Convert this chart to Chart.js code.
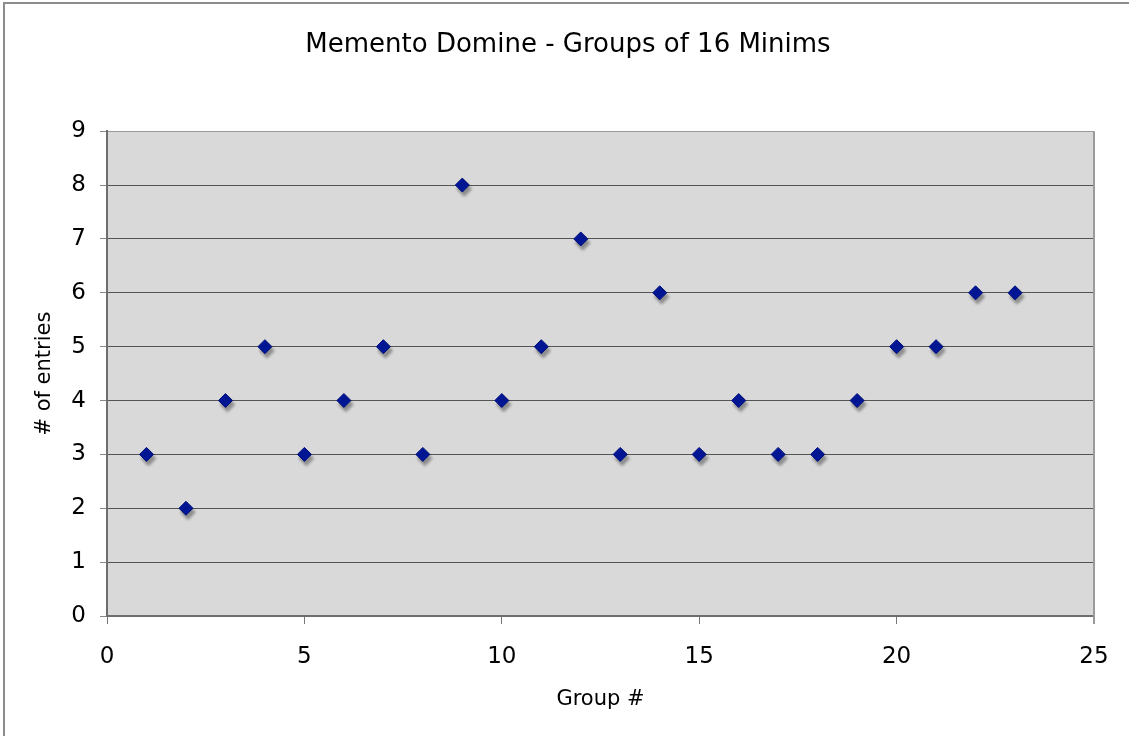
<!DOCTYPE html>
<html>
<head>
<meta charset="utf-8">
<script src="https://cdn.jsdelivr.net/npm/chart.js@4/dist/chart.umd.min.js"></script>
<style>
  html, body { margin: 0; padding: 0; background: #fff; }
  #wrap { width: 1129px; height: 736px; position: relative; }
</style>
</head>
<body>
<div id="wrap"><canvas id="chart"></canvas></div>
<script>
const groups = [1, 2, 3, 4, 5, 6, 7, 8, 9, 10, 11, 12, 13, 14, 15, 16, 17, 18, 19, 20, 21, 22, 23];
const entries = [3, 2, 4, 5, 3, 4, 5, 3, 8, 4, 5, 7, 3, 6, 3, 4, 3, 3, 4, 5, 5, 6, 6];
const xTicks = [0, 5, 10, 15, 20, 25];
const yTicks = [0, 1, 2, 3, 4, 5, 6, 7, 8, 9];

const fontFamily = '"DejaVu Sans", "Liberation Sans", sans-serif';

// grey plot area + outer frame
const backdrop = {
  id: 'backdrop',
  beforeDraw(chart) {
    const { ctx, chartArea: a } = chart;
    ctx.save();
    ctx.fillStyle = '#d9d9d9';
    ctx.fillRect(a.left, a.top, a.right - a.left, a.bottom - a.top);
    ctx.strokeStyle = '#8c8c8c';
    ctx.lineWidth = 2;
    ctx.beginPath();
    ctx.moveTo(4, 740);
    ctx.lineTo(4, 3);
    ctx.lineTo(1135, 3);
    ctx.stroke();
    ctx.restore();
  },
  afterDraw(chart) {
    const { ctx, chartArea: a } = chart;
    ctx.save();
    ctx.strokeStyle = '#9a9a9a';
    ctx.lineWidth = 2;
    ctx.beginPath();
    ctx.moveTo(a.right, a.top);
    ctx.lineTo(a.right, a.bottom + 8);
    ctx.stroke();
    ctx.restore();
  },
};

// soft drop shadow under the diamonds
const shadow = {
  id: 'shadow',
  beforeDatasetsDraw(chart) {
    const ctx = chart.ctx;
    ctx.save();
    ctx.shadowColor = 'rgba(0,0,0,0.35)';
    ctx.shadowOffsetX = 2;
    ctx.shadowOffsetY = 4;
    ctx.shadowBlur = 3;
  },
  afterDatasetsDraw(chart) {
    chart.ctx.restore();
  },
};

new Chart(document.getElementById('chart'), {
  type: 'scatter',
  data: {
    datasets: [
      {
        label: '# of entries',
        data: groups.map((g, i) => ({ x: g, y: entries[i] })),
        pointStyle: 'rectRot',
        pointRadius: 7,
        pointHoverRadius: 7,
        backgroundColor: '#00179a',
        borderColor: '#000f78',
        borderWidth: 1,
      },
    ],
  },
  options: {
    responsive: true,
    maintainAspectRatio: false,
    animation: false,
    events: [],
    layout: { padding: { left: 42, right: 35, top: 0, bottom: 0 } },
    plugins: {
      legend: { display: false },
      tooltip: { enabled: false },
      title: {
        display: true,
        text: 'Memento Domine - Groups of 16 Minims',
        color: '#000',
        font: { family: fontFamily, size: 26, weight: 'normal' },
        padding: { top: 30, bottom: 70 },
      },
    },
    scales: {
      x: {
        type: 'linear',
        min: 0,
        max: 25,
        afterBuildTicks: (scale) => { scale.ticks = xTicks.map((v) => ({ value: v })); },
        afterFit: (scale) => { scale.height = 120; },
        ticks: { color: '#000', font: { family: fontFamily, size: 23 }, padding: 19, maxRotation: 0 },
        grid: { drawOnChartArea: false, drawTicks: true, tickLength: 8, color: '#777', lineWidth: 1 },
        border: { color: '#6e6e6e', width: 2 },
        title: {
          display: true,
          text: 'Group #',
          color: '#000',
          font: { family: fontFamily, size: 21 },
          padding: { top: 0, bottom: 24 },
        },
      },
      y: {
        type: 'linear',
        min: 0,
        max: 9,
        afterBuildTicks: (scale) => { scale.ticks = yTicks.map((v) => ({ value: v })); },
        afterFit: (scale) => { scale.width = 65; },
        ticks: { color: '#000', font: { family: fontFamily, size: 23 }, padding: 14 },
        grid: {
          color: (c) => (c.tick && c.tick.value === 9 ? '#9a9a9a' : '#555'),
          lineWidth: 1,
          tickLength: 7,
          tickColor: '#888',
        },
        border: { color: '#6e6e6e', width: 2 },
        title: {
          display: true,
          text: '# of entries',
          color: '#000',
          font: { family: fontFamily, size: 21 },
          padding: { top: -10, bottom: 0 },
        },
      },
    },
  },
  plugins: [backdrop, shadow],
});
</script>
</body>
</html>
